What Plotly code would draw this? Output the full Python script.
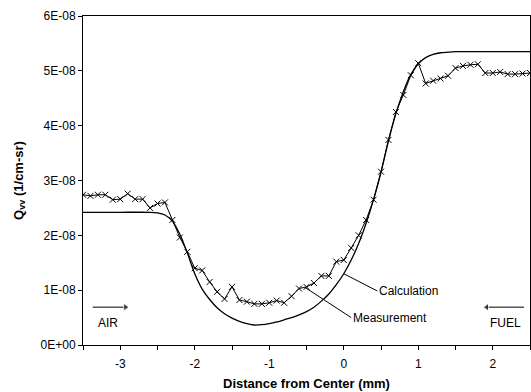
import plotly.graph_objects as go

# ---- data (values in units of 1E-08 1/cm-sr) ----
meas_x = [round(-3.5 + 0.1 * i, 1) for i in range(61)]
meas_y = [2.74, 2.72, 2.74, 2.74, 2.65, 2.66, 2.76, 2.66, 2.66, 2.50,
          2.58, 2.60, 2.28, 1.96, 1.70, 1.40, 1.36, 1.15, 0.97, 0.84,
          1.06, 0.82, 0.79, 0.75, 0.75, 0.77, 0.81, 0.77, 0.89, 1.03,
          1.06, 1.13, 1.26, 1.26, 1.52, 1.55, 1.77, 2.00, 2.28, 2.65,
          3.16, 3.74, 4.25, 4.56, 4.92, 5.14, 4.77, 4.82, 4.86, 4.91,
          5.05, 5.09, 5.11, 5.12, 4.96, 4.96, 4.98, 4.94, 4.94, 4.95, 4.96]

calc_x = [-3.5, -3.0, -2.6, -2.5, -2.4, -2.3, -2.2, -2.1, -2.0, -1.9, -1.8,
          -1.7, -1.6, -1.5, -1.4, -1.3, -1.2, -1.1, -1.0, -0.9, -0.8, -0.7,
          -0.6, -0.5, -0.4, -0.3, -0.2, -0.1, 0.0, 0.1, 0.2, 0.3, 0.4, 0.5,
          0.6, 0.7, 0.8, 0.9, 1.0, 1.1, 1.2, 1.3, 1.4, 1.5, 1.7, 2.0, 2.5]
calc_y = [2.42, 2.42, 2.42, 2.41, 2.37, 2.26, 2.02, 1.68, 1.30, 1.02, 0.83,
          0.68, 0.57, 0.49, 0.43, 0.39, 0.365, 0.37, 0.39, 0.42, 0.46, 0.50,
          0.55, 0.61, 0.69, 0.80, 0.93, 1.10, 1.30, 1.55, 1.85, 2.22, 2.65, 3.15,
          3.72, 4.22, 4.62, 4.93, 5.13, 5.24, 5.30, 5.33, 5.34, 5.35, 5.35, 5.35, 5.35]

x_tick_vals = [-3, -2, -1, 0, 1, 2]
x_tick_text = ["-3", "-2", "-1", "0", "1", "2"]
y_tick_vals = [0, 1e-8, 2e-8, 3e-8, 4e-8, 5e-8, 6e-8]
y_tick_text = ["0E+00", "1E-08", "2E-08", "3E-08", "4E-08", "5E-08", "6E-08"]

# direction arrows (x positions of tail and head, y level), in data units
air_arrow_x = [-3.37, -2.93]
fuel_arrow_x = [2.42, 1.92]
arrow_y = 0.69

SCALE = 1e-8
FONT = "Arial, Liberation Sans, sans-serif"

fig = go.Figure()
fig.add_trace(go.Scatter(
    x=calc_x, y=[v * SCALE for v in calc_y], mode="lines",
    line=dict(color="black", width=1.3, shape="spline", smoothing=0.6),
    showlegend=False, hoverinfo="skip"))
fig.add_trace(go.Scatter(
    x=meas_x, y=[v * SCALE for v in meas_y], mode="lines+markers",
    line=dict(color="black", width=1),
    marker=dict(symbol="x-thin-open", size=6, line=dict(color="black", width=1)),
    showlegend=False, hoverinfo="skip"))
# AIR / FUEL arrows
for ax_, sym in ((air_arrow_x, "triangle-right"), (fuel_arrow_x, "triangle-left")):
    fig.add_trace(go.Scatter(
        x=ax_, y=[arrow_y * SCALE] * 2, mode="lines+markers",
        line=dict(color="black", width=1),
        marker=dict(symbol=["circle", sym], size=[0, 7], color="black"),
        showlegend=False, hoverinfo="skip"))

axis_common = dict(showgrid=False, zeroline=False, linecolor="black", linewidth=1,
                   tickcolor="black", tickwidth=1)
fig.update_layout(
    width=531, height=392,
    margin=dict(l=83, r=1, t=16, b=47),
    paper_bgcolor="white", plot_bgcolor="white",
    font=dict(family=FONT, size=12, color="black"),
    xaxis=dict(range=[-3.5, 2.5], tickvals=x_tick_vals, ticktext=x_tick_text,
               ticks="outside", ticklen=4, showline=True, mirror=True,
               ticklabelstandoff=4,
               minor=dict(dtick=0.5, tick0=0, ticks="outside", ticklen=4,
                          tickcolor="black", tickwidth=1, showgrid=False),
               title=dict(text="<b>Distance from Center (mm)</b>", font=dict(size=13), standoff=8),
               **axis_common),
    yaxis=dict(range=[0, 6e-8], tickvals=y_tick_vals, ticktext=y_tick_text,
               ticks="outside", ticklen=4, showline=True, mirror=True,
               title=dict(text="<b>Q<sub>vv</sub> (1/cm-sr)</b>", font=dict(size=13), standoff=14),
               **axis_common),
)

# pointer labels
fig.add_annotation(x=0.0, y=1.30e-8, ax=0.45, ay=0.985e-8, axref="x", ayref="y",
                   text="Calculation", xanchor="left", yanchor="middle",
                   showarrow=True, arrowhead=0, arrowwidth=1, arrowcolor="black",
                   font=dict(size=12))
fig.add_annotation(x=-0.52, y=1.05e-8, ax=0.10, ay=0.50e-8, axref="x", ayref="y",
                   text="Measurement", xanchor="left", yanchor="middle",
                   showarrow=True, arrowhead=0, arrowwidth=1, arrowcolor="black",
                   font=dict(size=12))
fig.add_annotation(x=-3.17, y=0.40e-8, text="AIR", showarrow=False, font=dict(size=12))
fig.add_annotation(x=2.17, y=0.40e-8, text="FUEL", showarrow=False, font=dict(size=12))

fig.write_html("out.html", config={"displayModeBar": False},
               post_script="document.body.style.margin='0px';document.body.style.overflow='hidden';")
